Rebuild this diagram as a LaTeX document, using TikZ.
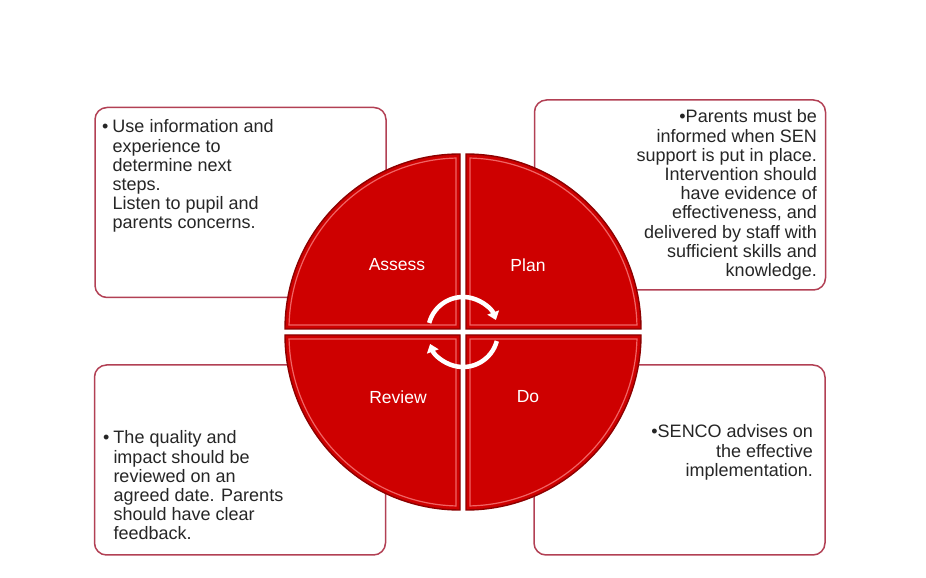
\documentclass[tikz,border=0pt]{standalone}
\usepackage{fontspec}
\setmainfont{Liberation Sans}
\usetikzlibrary{arrows.meta}

\definecolor{quadred}{RGB}{206,0,0}
\definecolor{quaddark}{RGB}{140,0,0}
\definecolor{quadlight}{RGB}{240,100,100}
\definecolor{boxline}{RGB}{178,64,84}
\definecolor{textgray}{RGB}{38,38,38}

\begin{document}
\begin{tikzpicture}[
  x=1pt, y=1pt,
  infobox/.style={rectangle, draw=boxline, line width=1.5pt, fill=white, rounded corners=12pt, inner sep=0pt, minimum width=291pt, minimum height=190pt},
  bodytext/.style={inner sep=0pt, text=textgray, font=\fontsize{18}{19.2}\selectfont},
  quad/.style={fill=quadred, draw=quaddark, line width=1.4pt},
  quadedge/.style={draw=quadlight, line width=1.2pt},
  qlabel/.style={inner sep=0pt, text=white, font=\fontsize{17.5}{20}\selectfont},
  cyclearrow/.style={white, line width=4.5pt, -{Triangle[length=8pt, width=12pt]}}
]
\useasboundingbox (0,0) rectangle (926,578);

\node[infobox] (assessbox) at (240.5,375.5) {};
\node[infobox] (planbox) at (680,383) {};
\node[infobox] (reviewbox) at (240,118) {};
\node[infobox] (dobox) at (679.5,118) {};

\node[bodytext, anchor=base west] (assesstext) at (102,445) {\begin{tabular}[t]{@{}l@{\hspace{4pt}}l@{}}\textbullet & Use information and\\ & experience to\\ & determine next\\ & steps.\\ & Listen to pupil and\\ & parents concerns.\end{tabular}};
\node[bodytext, anchor=base east] (plantext) at (817,455) {\begin{tabular}[t]{@{}r@{}}\textbullet Parents must be\\ informed when SEN\\ support is put in place.\\ Intervention should\\ have evidence of\\ effectiveness, and\\ delivered by staff with\\ sufficient skills and\\ knowledge.\end{tabular}};
\node[bodytext, anchor=base west] (reviewtext) at (103,134) {\begin{tabular}[t]{@{}l@{\hspace{4pt}}l@{}}\textbullet & The quality and\\ & impact should be\\ & reviewed on an\\ & agreed date. Parents\\ & should have clear\\ & feedback.\end{tabular}};
\node[bodytext, anchor=base east] (dotext) at (813,140) {\begin{tabular}[t]{@{}r@{}}\textbullet SENCO advises on\\ the effective\\ implementation.\end{tabular}};

\coordinate (hub) at (463,246);
\foreach \a in {0,-90,-180,-270} {
  \begin{scope}[shift={(hub)}, rotate=\a]
    \path[quad] (-3,3) -- ++(-175,0) arc[start angle=180, end angle=90, radius=175] -- cycle;
    \path[quadedge] (-7,7) -- (-173.95,7) arc[start angle=178.66, end angle=91.34, radius=171] -- cycle;
  \end{scope}
}

\node[qlabel] (assess) at (397,313) {Assess};
\node[qlabel] (plan) at (528,313) {Plan};
\node[qlabel] (review) at (398,181) {Review};
\node[qlabel] (do) at (528,181) {Do};

\draw[cyclearrow] ([shift={(165:35)}]hub) arc[start angle=165, end angle=20, radius=35];
\draw[cyclearrow] ([shift={(-15:35)}]hub) arc[start angle=-15, end angle=-160, radius=35];

\end{tikzpicture}
\end{document}
